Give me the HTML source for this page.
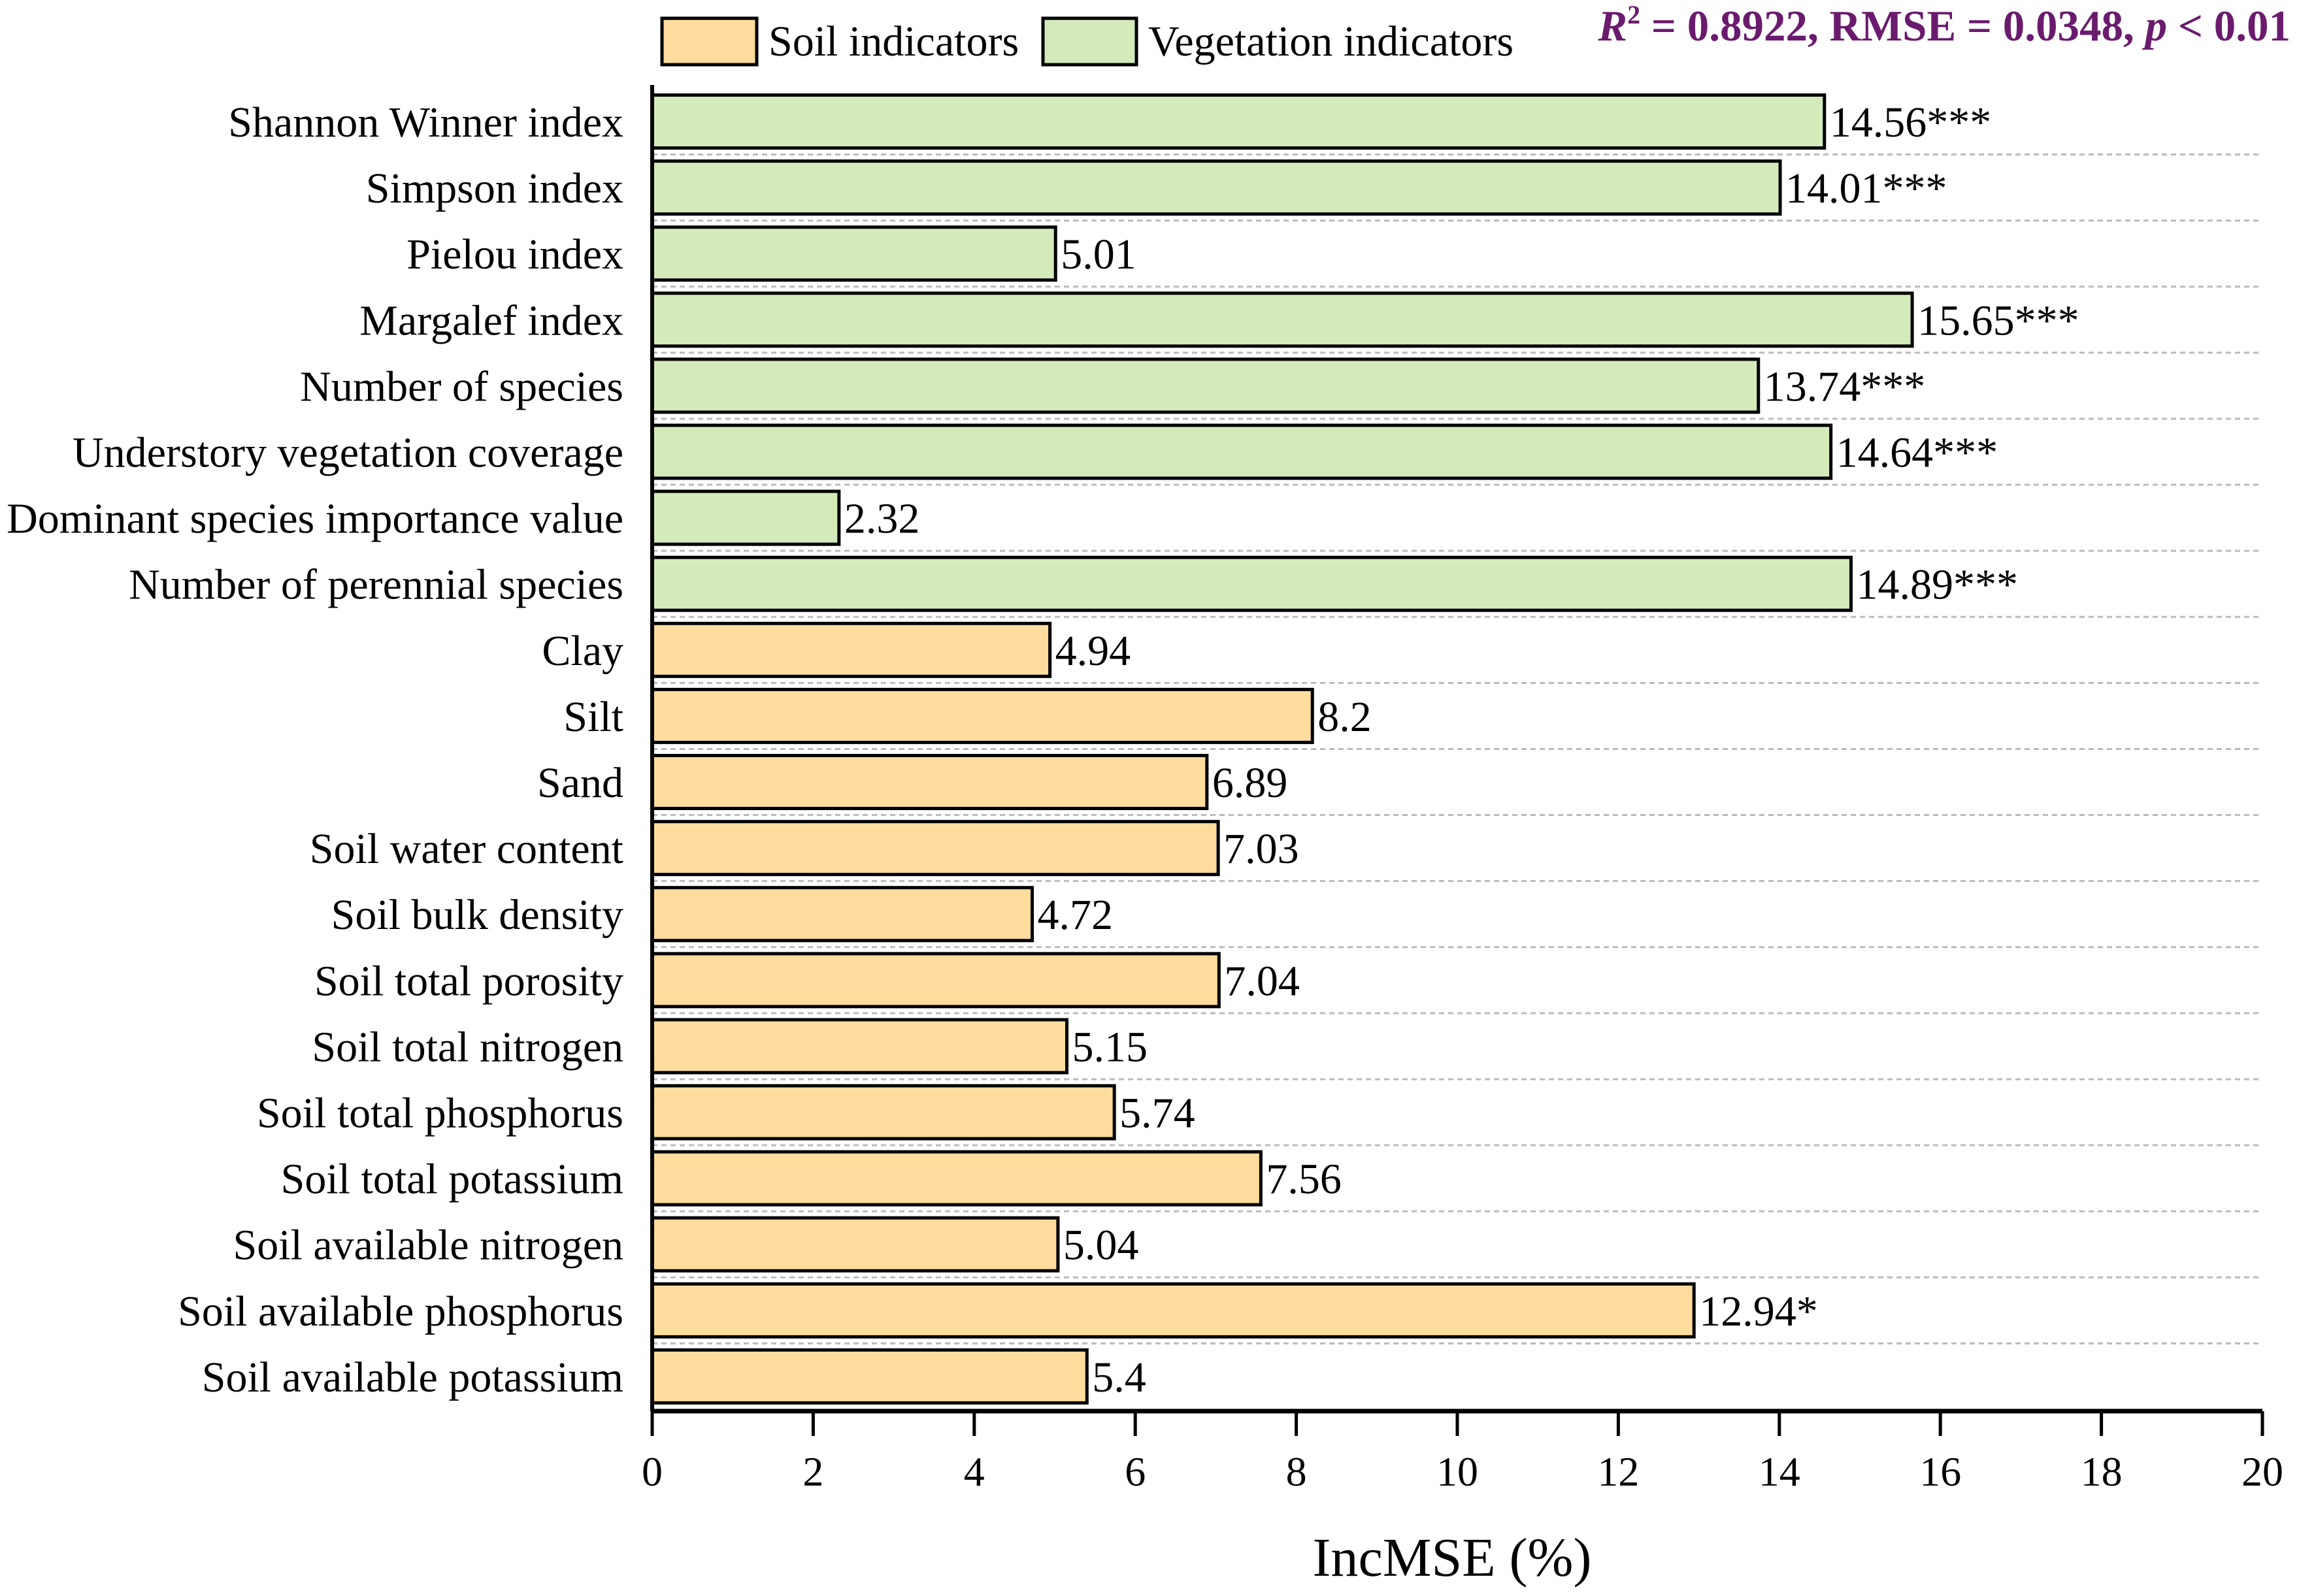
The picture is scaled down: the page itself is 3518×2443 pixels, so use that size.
<!DOCTYPE html>
<html><head><meta charset="utf-8">
<style>
html,body{margin:0;padding:0;background:#fff;}
svg{display:block;font-family:"Liberation Serif",serif;}
</style></head>
<body>
<svg id="chart" width="3518" height="2443" viewBox="0 0 3518 2443" xmlns="http://www.w3.org/2000/svg">
  <g id="legend">
    <rect x="1013" y="28" width="145" height="71" fill="#fddc9e" stroke="#000" stroke-width="5"/>
    <text x="1176" y="85" font-size="66">Soil indicators</text>
    <rect x="1596" y="28" width="143" height="71" fill="#d5eabb" stroke="#000" stroke-width="5"/>
    <text x="1757" y="85" font-size="66">Vegetation indicators</text>
  </g>
  <text x="3505" y="62" font-size="67" font-weight="bold" fill="#6a1b6e" text-anchor="end"><tspan font-style="italic">R</tspan><tspan font-size="40" dy="-26">2</tspan><tspan dy="26"> = 0.8922, RMSE = 0.0348, </tspan><tspan font-style="italic">p</tspan><tspan> &lt; 0.01</tspan></text>
  <g id="grid"></g>
  <g id="bars"></g>
  <g id="labels"></g>
  <g id="values"></g>
  <g id="xaxis"></g>
  <text x="2222" y="2412" font-size="84" text-anchor="middle">IncMSE (%)</text>
</svg>
<script>
const categories = ["Shannon Winner index","Simpson index","Pielou index","Margalef index","Number of species","Understory vegetation coverage","Dominant species importance value","Number of perennial species","Clay","Silt","Sand","Soil water content","Soil bulk density","Soil total porosity","Soil total nitrogen","Soil total phosphorus","Soil total potassium","Soil available nitrogen","Soil available phosphorus","Soil available potassium"];
const values = [14.56,14.01,5.01,15.65,13.74,14.64,2.32,14.89,4.94,8.2,6.89,7.03,4.72,7.04,5.15,5.74,7.56,5.04,12.94,5.4];
const significance = ["***","***","","***","***","***","","***","","","","","","","","","","","*",""];
const groups = ["veg","veg","veg","veg","veg","veg","veg","veg","soil","soil","soil","soil","soil","soil","soil","soil","soil","soil","soil","soil"];
const xTicks = [0,2,4,6,8,10,12,14,16,18,20];

const NS="http://www.w3.org/2000/svg";
const X0=998, X1=3462, XMAX=20;
const xs = v => X0 + (v/XMAX)*(X1-X0);
const Y0=186, STEP=101.1, BH=81, AXY=2160;
const yc = i => Y0 + i*STEP;
function mk(tag, attrs, parent){const e=document.createElementNS(NS,tag);for(const k in attrs)e.setAttribute(k,attrs[k]);parent.appendChild(e);return e;}
const grid=document.getElementById('grid'), bars=document.getElementById('bars'), labels=document.getElementById('labels'), vals=document.getElementById('values'), xaxis=document.getElementById('xaxis');
const fills={veg:"#d5eabb",soil:"#fddc9e"};
categories.forEach((c,i)=>{
  const y=yc(i);
  if(i<categories.length-1){
    const g=mk('line',{x1:X0,x2:X1,y1:y+STEP/2,y2:y+STEP/2,stroke:"#bbb","stroke-width":3,"stroke-dasharray":"8 6"},grid);
    
    
  }
  const r=mk('rect',{x:X0,y:y-BH/2,width:xs(values[i])-X0,height:BH,fill:fills[groups[i]],stroke:"#000","stroke-width":5},bars);
  
  
  const t=mk('text',{x:954,y:y+23,"font-size":66,"text-anchor":"end"},labels);
  t.textContent=c;
  
  
  const v=mk('text',{x:xs(values[i])+8,y:y+23,"font-size":66},vals);
  v.textContent=values[i]+significance[i];
  
  
});
const ax=mk('line',{x1:X0,x2:X1,y1:AXY,y2:AXY,stroke:"#000","stroke-width":7},xaxis);


const ay=mk('line',{x1:X0,x2:X0,y1:130,y2:AXY,stroke:"#000","stroke-width":6},xaxis);


xTicks.forEach(t=>{
  const l=mk('line',{x1:xs(t),x2:xs(t),y1:AXY,y2:2198,stroke:"#000","stroke-width":5},xaxis);
  
  
  const tx=mk('text',{x:xs(t),y:2274,"font-size":64,"text-anchor":"middle"},xaxis);
  tx.textContent=t;
  
  
});
</script>
</body></html>
